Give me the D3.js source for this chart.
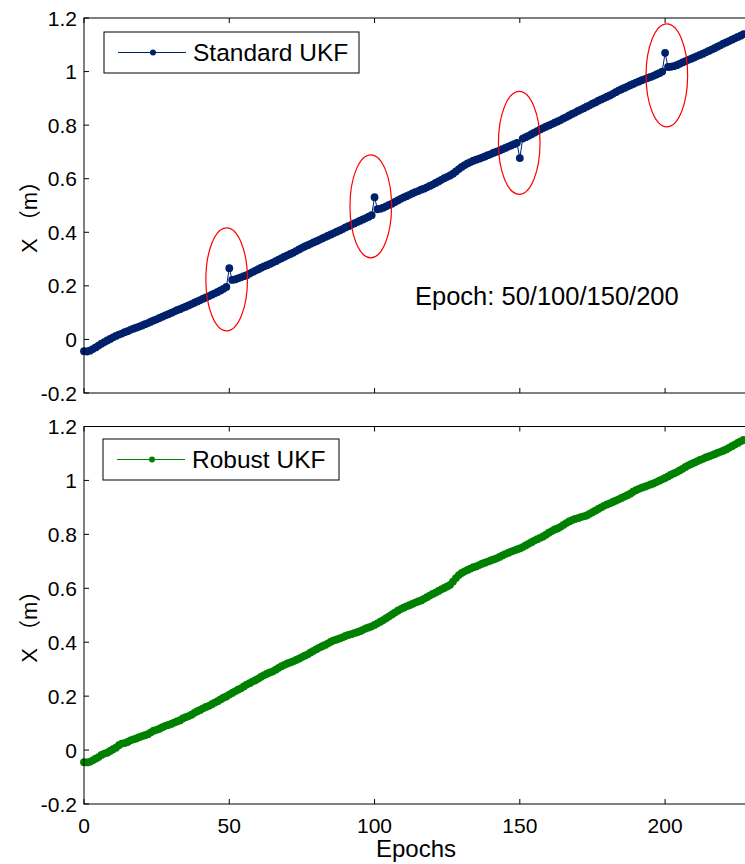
<!DOCTYPE html>
<html>
<head>
<meta charset="utf-8">
<script src="https://cdn.jsdelivr.net/npm/d3@7"></script>
<style>
  body { margin: 0; background: #fff; }
  svg { display: block; font-family: "Liberation Sans", Arial, sans-serif; }
  .ylab { text-spacing-trim: space-all; font-feature-settings: "chws" 0, "halt" 0; }
</style>
</head>
<body>
<svg id="chart" width="745" height="864"></svg>
<script>
// epochs 0..227, X position in metres
const epochs = d3.range(0, 228);

const standardUKF = [
  -0.044, -0.045, -0.042, -0.036, -0.030, -0.023, -0.016, -0.010, -0.004, 0.002,
  0.008, 0.013, 0.018, 0.022, 0.027, 0.031, 0.036, 0.040, 0.044, 0.048,
  0.052, 0.057, 0.061, 0.066, 0.071, 0.075, 0.080, 0.085, 0.090, 0.094,
  0.099, 0.104, 0.109, 0.113, 0.118, 0.122, 0.127, 0.132, 0.137, 0.142,
  0.147, 0.152, 0.157, 0.162, 0.167, 0.172, 0.177, 0.183, 0.189, 0.196,
  0.266, 0.222, 0.224, 0.228, 0.232, 0.236, 0.240, 0.246, 0.251, 0.257,
  0.262, 0.268, 0.273, 0.277, 0.282, 0.287, 0.292, 0.298, 0.303, 0.309,
  0.314, 0.319, 0.324, 0.330, 0.336, 0.342, 0.347, 0.352, 0.357, 0.362,
  0.367, 0.372, 0.377, 0.382, 0.387, 0.392, 0.397, 0.402, 0.407, 0.412,
  0.418, 0.423, 0.428, 0.433, 0.438, 0.443, 0.448, 0.453, 0.458, 0.464,
  0.531, 0.486, 0.488, 0.492, 0.497, 0.502, 0.507, 0.513, 0.519, 0.525,
  0.530, 0.535, 0.540, 0.545, 0.550, 0.554, 0.559, 0.563, 0.568, 0.573,
  0.578, 0.584, 0.590, 0.596, 0.602, 0.607, 0.612, 0.619, 0.627, 0.636,
  0.644, 0.651, 0.657, 0.662, 0.667, 0.671, 0.675, 0.679, 0.683, 0.688,
  0.692, 0.697, 0.701, 0.705, 0.710, 0.715, 0.720, 0.724, 0.729, 0.734,
  0.677, 0.750, 0.755, 0.760, 0.766, 0.772, 0.778, 0.784, 0.789, 0.794,
  0.799, 0.804, 0.809, 0.814, 0.819, 0.825, 0.830, 0.836, 0.842, 0.847,
  0.853, 0.858, 0.863, 0.869, 0.874, 0.880, 0.885, 0.891, 0.896, 0.901,
  0.906, 0.911, 0.917, 0.923, 0.929, 0.934, 0.939, 0.944, 0.949, 0.954,
  0.959, 0.963, 0.968, 0.972, 0.976, 0.980, 0.984, 0.989, 0.994, 1.000,
  1.070, 1.017, 1.018, 1.020, 1.024, 1.029, 1.034, 1.039, 1.044, 1.048,
  1.053, 1.058, 1.062, 1.067, 1.072, 1.077, 1.082, 1.087, 1.093, 1.098,
  1.104, 1.109, 1.114, 1.119, 1.124, 1.129, 1.134, 1.140
];

const robustUKF = [
  -0.045, -0.046, -0.044, -0.038, -0.032, -0.026, -0.018, -0.013, -0.010, -0.003,
  0.003, 0.009, 0.018, 0.024, 0.026, 0.030, 0.036, 0.040, 0.043, 0.048,
  0.052, 0.055, 0.059, 0.066, 0.072, 0.075, 0.079, 0.085, 0.090, 0.093,
  0.097, 0.102, 0.106, 0.110, 0.117, 0.122, 0.126, 0.131, 0.138, 0.144,
  0.149, 0.155, 0.160, 0.164, 0.170, 0.176, 0.181, 0.188, 0.194, 0.199,
  0.206, 0.212, 0.218, 0.224, 0.229, 0.236, 0.243, 0.248, 0.254, 0.259,
  0.265, 0.272, 0.278, 0.283, 0.288, 0.292, 0.298, 0.305, 0.311, 0.316,
  0.321, 0.325, 0.329, 0.334, 0.339, 0.345, 0.350, 0.355, 0.362, 0.368,
  0.374, 0.380, 0.385, 0.390, 0.396, 0.402, 0.407, 0.410, 0.414, 0.418,
  0.423, 0.427, 0.430, 0.434, 0.437, 0.441, 0.446, 0.451, 0.455, 0.459,
  0.464, 0.470, 0.476, 0.482, 0.489, 0.496, 0.503, 0.510, 0.517, 0.523,
  0.528, 0.533, 0.537, 0.542, 0.547, 0.551, 0.555, 0.561, 0.567, 0.573,
  0.579, 0.584, 0.590, 0.596, 0.601, 0.607, 0.613, 0.625, 0.638, 0.649,
  0.657, 0.663, 0.668, 0.673, 0.678, 0.681, 0.686, 0.691, 0.695, 0.699,
  0.703, 0.707, 0.711, 0.716, 0.722, 0.727, 0.731, 0.736, 0.740, 0.744,
  0.748, 0.753, 0.759, 0.765, 0.771, 0.777, 0.782, 0.787, 0.792, 0.799,
  0.806, 0.812, 0.818, 0.822, 0.828, 0.835, 0.842, 0.848, 0.853, 0.857,
  0.860, 0.864, 0.867, 0.870, 0.876, 0.882, 0.888, 0.894, 0.900, 0.906,
  0.911, 0.915, 0.920, 0.925, 0.930, 0.935, 0.940, 0.945, 0.951, 0.958,
  0.964, 0.969, 0.973, 0.977, 0.981, 0.985, 0.989, 0.994, 0.999, 1.004,
  1.009, 1.015, 1.021, 1.026, 1.031, 1.037, 1.043, 1.050, 1.056, 1.061,
  1.066, 1.071, 1.076, 1.080, 1.085, 1.089, 1.093, 1.097, 1.102, 1.106,
  1.110, 1.115, 1.121, 1.127, 1.133, 1.139, 1.145, 1.150
];

const xTicks = [0, 50, 100, 150, 200];
const yTicks = [-0.2, 0, 0.2, 0.4, 0.6, 0.8, 1, 1.2];

// outlier circles on the top panel
const outlierEpochs = [49.1, 98.7, 149.8, 200.6];
const outlierCentres = [0.224, 0.497, 0.734, 0.986];

const svg = d3.select("#chart");
const left = 84, right = 745;

const x = d3.scaleLinear().domain([0, 227.5]).range([left, right]);

const panels = [
  { top: 18, bottom: 393, data: standardUKF, colour: "#00206a", name: "Standard UKF",
    legend: { x: 104, y: 32, w: 255, h: 41 }, xLabels: false },
  { top: 426.5, bottom: 804, data: robustUKF, colour: "#008000", name: "Robust UKF",
    legend: { x: 103, y: 439, w: 236, h: 41 }, xLabels: true }
];

panels.forEach((p, i) => {
  const y = d3.scaleLinear().domain([-0.2, 1.2]).range([p.bottom, p.top]);
  const g = svg.append("g");

  const pts = epochs.map((e, k) => [e, p.data[k]]);

  // line + dots
  g.append("path")
    .datum(pts)
    .attr("fill", "none")
    .attr("stroke", p.colour)
    .attr("stroke-width", 1)
    .attr("d", d3.line().x(d => x(d[0])).y(d => y(d[1])));

  g.selectAll("circle.pt")
    .data(pts)
    .join("circle")
    .attr("class", "pt")
    .attr("cx", d => x(d[0]))
    .attr("cy", d => y(d[1]))
    .attr("r", 3.9)
    .attr("fill", p.colour);

  // frame
  g.append("rect")
    .attr("x", left).attr("y", p.top)
    .attr("width", right - left + 2).attr("height", p.bottom - p.top)
    .attr("fill", "none").attr("stroke", "#000").attr("stroke-width", 1);

  // ticks inside
  xTicks.forEach(t => {
    g.append("line").attr("x1", x(t)).attr("x2", x(t))
      .attr("y1", p.bottom).attr("y2", p.bottom - 5).attr("stroke", "#000");
    g.append("line").attr("x1", x(t)).attr("x2", x(t))
      .attr("y1", p.top).attr("y2", p.top + 5).attr("stroke", "#000");
  });
  yTicks.forEach(t => {
    g.append("line").attr("x1", left).attr("x2", left + 5)
      .attr("y1", y(t)).attr("y2", y(t)).attr("stroke", "#000");
    g.append("text")
      .attr("x", left - 7).attr("y", y(t))
      .attr("dy", "0.36em")
      .attr("text-anchor", "end")
      .attr("font-size", 21)
      .text(String(t));
  });

  if (p.xLabels) {
    xTicks.forEach(t => {
      g.append("text")
        .attr("x", x(t)).attr("y", p.bottom + 29)
        .attr("text-anchor", "middle")
        .attr("font-size", 21)
        .text(t);
    });
    g.append("text")
      .attr("x", 416).attr("y", 857)
      .attr("text-anchor", "middle")
      .attr("font-size", 24)
      .text("Epochs");
  }

  // y label
  const mid = (p.top + p.bottom) / 2;
  const yl = g.append("text")
    .attr("class", "ylab")
    .attr("transform", `translate(37,${mid + 6}) rotate(-90)`)
    .attr("text-anchor", "middle")
    .attr("font-size", 22);
  yl.append("tspan").text("X ");
  yl.append("tspan").attr("font-family", "Noto Sans CJK SC").text("（");
  yl.append("tspan").text("m");
  yl.append("tspan").attr("font-family", "Noto Sans CJK SC").text("）");

  // legend
  const L = p.legend;
  g.append("rect")
    .attr("x", L.x).attr("y", L.y).attr("width", L.w).attr("height", L.h)
    .attr("fill", "#fff").attr("stroke", "#000").attr("stroke-width", 1);
  g.append("line")
    .attr("x1", L.x + 14).attr("x2", L.x + 82)
    .attr("y1", L.y + L.h / 2).attr("y2", L.y + L.h / 2)
    .attr("stroke", p.colour).attr("stroke-width", 1);
  g.append("circle")
    .attr("cx", L.x + 49).attr("cy", L.y + L.h / 2).attr("r", 3)
    .attr("fill", p.colour);
  g.append("text")
    .attr("x", L.x + 89).attr("y", L.y + L.h / 2)
    .attr("dy", "0.36em")
    .attr("font-size", 24.5)
    .text(p.name);

  if (i === 0) {
    outlierEpochs.forEach((e, k) => {
      g.append("ellipse")
        .attr("cx", x(e)).attr("cy", y(outlierCentres[k]))
        .attr("rx", 20.8).attr("ry", 51.5)
        .attr("fill", "none").attr("stroke", "#ff0000").attr("stroke-width", 1.2);
    });
    g.append("text")
      .attr("x", 415).attr("y", 305)
      .attr("font-size", 25.5)
      .text("Epoch: 50/100/150/200");
  }
});
</script>
</body>
</html>
